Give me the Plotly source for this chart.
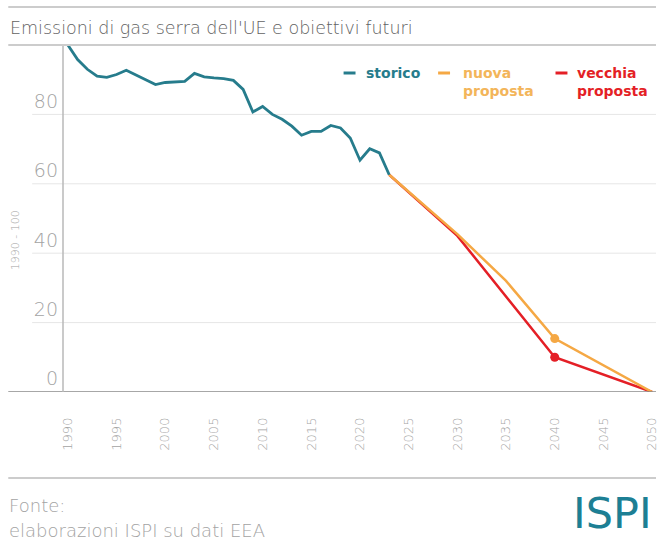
import plotly.graph_objects as go

# ---- data ----
hist_years = list(range(1990, 2024))
hist_values = [100, 95.8, 93.0, 91.0, 90.7, 91.5, 92.7, 91.3, 90.0, 88.6,
               89.2, 89.3, 89.5, 91.8, 90.8, 90.5, 90.3, 89.8, 87.2, 80.7,
               82.3, 80.0, 78.6, 76.6, 74.0, 75.1, 75.1, 76.8, 76.1, 73.2,
               66.8, 70.1, 68.9, 62.6]

new_years = [2023, 2030, 2035, 2040, 2050]
new_values = [62.6, 45.5, 32.0, 15.4, 0]

old_years = [2023, 2030, 2040, 2050]
old_values = [62.6, 45.0, 10.0, 0]

marker_year = 2040
y_ticks = [0, 20, 40, 60, 80]
x_ticks = list(range(1990, 2051, 5))

title_text = "Emissioni di gas serra dell'UE e obiettivi futuri"
y_title = "1990 - 100"
source_1 = "Fonte:"
source_2 = "elaborazioni ISPI su dati EEA"
legend_names = ["storico", "nuova<br>proposta", "vecchia<br>proposta"]

TEAL = "#267c8c"
ORANGE = "#f5a844"
ORANGE_TXT = "#f3b55a"
RED = "#e41f26"
GRID = "#e6e6e6"
LABEL = "#a3a3a3"
LIGHT = "DejaVu Sans"

W, H = 659, 543
ML, MR, MT, MB = 63, 0, 45, 151
PW, PH = W - ML - MR, H - MT - MB


def px(x):
    return (x - ML) / PW


def py(y):
    return (H - MB - y) / PH


fig = go.Figure()

fig.add_trace(go.Scatter(x=old_years, y=old_values, mode="lines",
                         line=dict(color=RED, width=2.5), hoverinfo="skip"))
fig.add_trace(go.Scatter(x=new_years, y=new_values, mode="lines",
                         line=dict(color=ORANGE, width=2.5), hoverinfo="skip"))
fig.add_trace(go.Scatter(x=[marker_year], y=[old_values[old_years.index(marker_year)]],
                         mode="markers", marker=dict(color=RED, size=9)))
fig.add_trace(go.Scatter(x=[marker_year], y=[new_values[new_years.index(marker_year)]],
                         mode="markers", marker=dict(color=ORANGE, size=9)))
fig.add_trace(go.Scatter(x=hist_years, y=hist_values, mode="lines",
                         line=dict(color=TEAL, width=2.8), hoverinfo="skip"))

shapes = []
for v in y_ticks[1:]:
    shapes.append(dict(type="line", xref="paper", yref="y", x0=px(32), x1=1,
                       y0=v, y1=v, line=dict(color=GRID, width=1), layer="below"))
shapes.append(dict(type="line", xref="paper", yref="y", x0=px(8), x1=1,
                   y0=0, y1=0, line=dict(color="#8a8a8a", width=1.5)))
shapes.append(dict(type="line", xref="paper", yref="paper", x0=0, x1=0,
                   y0=0, y1=1, line=dict(color="#b8b8b8", width=1.5)))
for yy in [7, 45, 478]:
    shapes.append(dict(type="line", xref="paper", yref="paper", x0=px(8), x1=1.0,
                       y0=py(yy), y1=py(yy), line=dict(color="#cccccc", width=2)))

# legend dashes
for (x0, col) in [(345, TEAL), (440, ORANGE), (558, RED)]:
    shapes.append(dict(type="line", xref="paper", yref="paper", x0=px(x0), x1=px(x0 + 12),
                       y0=py(73), y1=py(73), line=dict(color=col, width=3)))

annotations = [
    dict(text=title_text, xref="paper", yref="paper", x=px(8), y=py(28),
         xanchor="left", yanchor="middle", showarrow=False,
         font=dict(family=LIGHT, size=17.5, color="#626262", weight=200)),
    dict(text=y_title, xref="paper", yref="paper", x=px(15), y=py(240),
         xanchor="center", yanchor="middle", textangle=-90, showarrow=False,
         font=dict(family=LIGHT, size=11, color=LABEL, weight=200)),
    dict(text=source_1, xref="paper", yref="paper", x=px(7), y=py(505),
         xanchor="left", yanchor="middle", showarrow=False,
         font=dict(family=LIGHT, size=18, color=LABEL, weight=200)),
    dict(text=source_2, xref="paper", yref="paper", x=px(7), y=py(530),
         xanchor="left", yanchor="middle", showarrow=False,
         font=dict(family=LIGHT, size=18, color=LABEL, weight=200)),
    dict(text="ISPI", xref="paper", yref="paper", x=px(574), y=py(513),
         xanchor="left", yanchor="middle", showarrow=False,
         font=dict(family="DejaVu Sans", size=43, color="#1d7f94")),
]
for (name, x0, col) in zip(legend_names, [366, 463, 578], [TEAL, ORANGE_TXT, RED]):
    annotations.append(dict(text="<b>" + name + "</b>", xref="paper", yref="paper",
                            x=px(x0), y=py(63), xanchor="left", yanchor="top",
                            align="left", showarrow=False,
                            font=dict(family="DejaVu Sans", size=14, color=col)))

fig.update_layout(
    width=W, height=H,
    margin=dict(l=ML, r=MR, t=MT, b=MB),
    paper_bgcolor="white", plot_bgcolor="white",
    showlegend=False,
    shapes=shapes, annotations=annotations,
    xaxis=dict(range=[1989.5, 2050.4], tickvals=x_ticks,
               ticktext=[str(t) for t in x_ticks], tickangle=-90,
               showgrid=False, zeroline=False, showline=False, ticks="",
               ticklabelstandoff=22, ticklabeloverflow="allow",
               tickfont=dict(family=LIGHT, size=13, color=LABEL, weight=200)),
    yaxis=dict(range=[0, 100], tickvals=y_ticks, showgrid=False,
               zeroline=False, showline=False, ticks="",
               ticklabelposition="outside top", ticklabelstandoff=4,
               tickfont=dict(family=LIGHT, size=19, color=LABEL, weight=200)),
)

fig.write_html("out.html", config={"displayModeBar": False},
               post_script="document.body.style.margin='0';")
